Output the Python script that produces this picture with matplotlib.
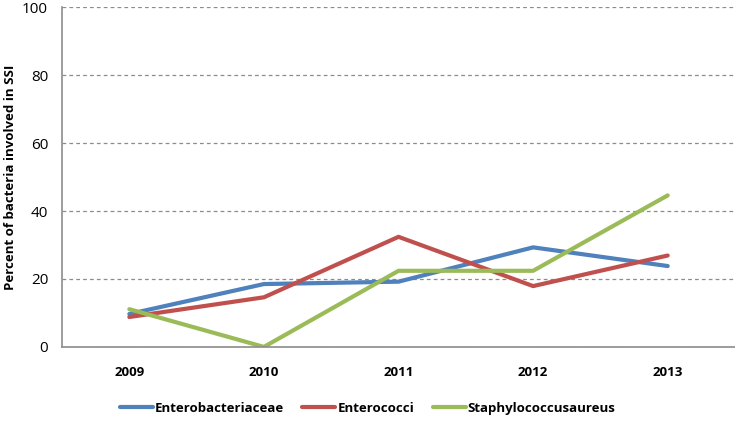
import matplotlib
matplotlib.use('Agg')
import matplotlib.pyplot as plt
import numpy as np

# data
years = ['2009', '2010', '2011', '2012', '2013']
enterobacteriaceae = [9.7, 18.5, 19.2, 29.3, 23.8]
enterococci = [8.8, 14.6, 32.4, 17.9, 26.9]
staph_aureus = [11.1, 0.0, 22.4, 22.4, 44.6]
yticks = [0, 20, 40, 60, 80, 100]

plt.rcParams['font.family'] = ['Open Sans', 'DejaVu Sans']

fig = plt.figure(figsize=(7.35, 4.21), dpi=100)
ax = fig.add_axes([0.0844, 0.176, 0.9156, 0.807])

x = np.arange(len(years))
ax.plot(x, enterobacteriaceae, color='#4F81BD', lw=3, label='Enterobacteriaceae', solid_capstyle='round')
ax.plot(x, enterococci, color='#C0504D', lw=3, label='Enterococci', solid_capstyle='round')
ax.plot(x, staph_aureus, color='#9BBB59', lw=3, label='Staphylococcusaureus', solid_capstyle='round')

ax.set_xlim(-0.5, len(years) - 0.5)
ax.set_ylim(0, 100)
ax.set_yticks(yticks)
ax.set_xticks(x)
ax.set_xticklabels(years, fontweight='bold', fontsize=9.5)
ax.tick_params(axis='y', labelsize=11, length=0, pad=10)
ax.tick_params(axis='x', length=0, pad=14)
ax.yaxis.grid(True, color='#8c8c8c', ls=(0, (3, 2.5)), lw=0.9)
ax.set_axisbelow(True)

for s in ['top', 'right']:
    ax.spines[s].set_visible(False)
for s in ['left', 'bottom']:
    ax.spines[s].set_color('#8c8c8c')
    ax.spines[s].set_linewidth(1.2)

ax.set_ylabel('Percent of bacteria involved in SSI', fontweight='bold', fontsize=9.5, labelpad=4)

leg = fig.legend(loc='center', bbox_to_anchor=(0.5, 0.03), ncol=3, frameon=False,
                 handlelength=2.5, handletextpad=0.15, columnspacing=1.4,
                 prop={'weight': 'bold', 'size': 9.5})

fig.savefig('out.png', dpi=100)
